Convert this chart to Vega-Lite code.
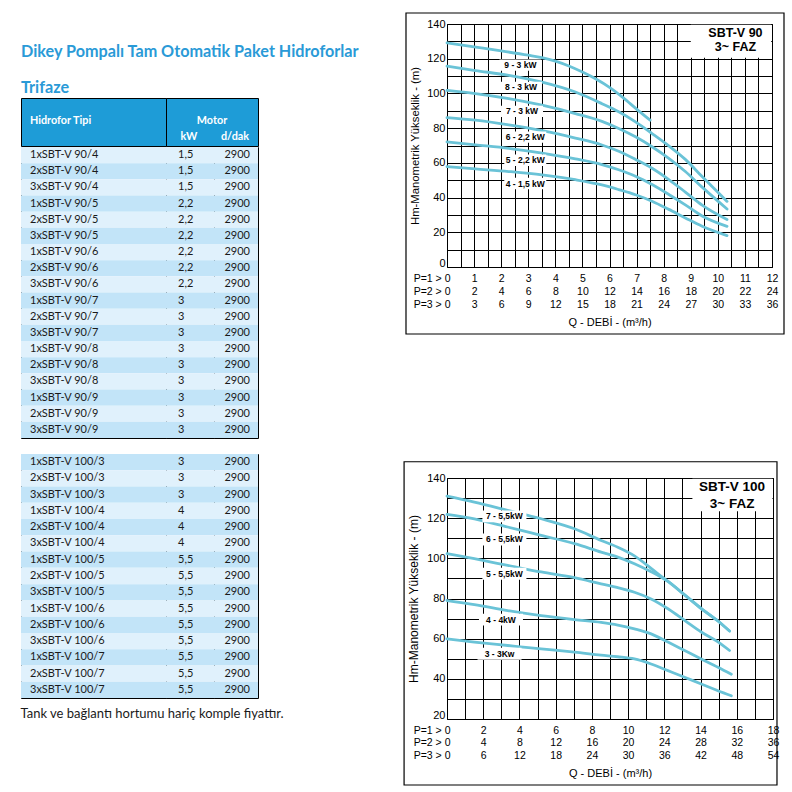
{
  "$schema": "https://vega.github.io/schema/vega-lite/v6.json",
  "padding": {"left": 20, "top": 11, "right": 4, "bottom": 2},
  "background": "white",
  "config": {
    "view": {"stroke": "black", "strokeWidth": 1},
    "font": "Liberation Sans",
    "locale": {"number": {"decimal": ",", "thousands": ".", "grouping": [3], "currency": ["", " TL"]}}
  },
  "datasets": {
    "t1": [
      {"tip": "1xSBT-V 90/4", "kw": 1.5, "dak": 2900},
      {"tip": "2xSBT-V 90/4", "kw": 1.5, "dak": 2900},
      {"tip": "3xSBT-V 90/4", "kw": 1.5, "dak": 2900},
      {"tip": "1xSBT-V 90/5", "kw": 2.2, "dak": 2900},
      {"tip": "2xSBT-V 90/5", "kw": 2.2, "dak": 2900},
      {"tip": "3xSBT-V 90/5", "kw": 2.2, "dak": 2900},
      {"tip": "1xSBT-V 90/6", "kw": 2.2, "dak": 2900},
      {"tip": "2xSBT-V 90/6", "kw": 2.2, "dak": 2900},
      {"tip": "3xSBT-V 90/6", "kw": 2.2, "dak": 2900},
      {"tip": "1xSBT-V 90/7", "kw": 3, "dak": 2900},
      {"tip": "2xSBT-V 90/7", "kw": 3, "dak": 2900},
      {"tip": "3xSBT-V 90/7", "kw": 3, "dak": 2900},
      {"tip": "1xSBT-V 90/8", "kw": 3, "dak": 2900},
      {"tip": "2xSBT-V 90/8", "kw": 3, "dak": 2900},
      {"tip": "3xSBT-V 90/8", "kw": 3, "dak": 2900},
      {"tip": "1xSBT-V 90/9", "kw": 3, "dak": 2900},
      {"tip": "2xSBT-V 90/9", "kw": 3, "dak": 2900},
      {"tip": "3xSBT-V 90/9", "kw": 3, "dak": 2900}
    ],
    "t2": [
      {"tip": "1xSBT-V 100/3", "kw": 3, "dak": 2900},
      {"tip": "2xSBT-V 100/3", "kw": 3, "dak": 2900},
      {"tip": "3xSBT-V 100/3", "kw": 3, "dak": 2900},
      {"tip": "1xSBT-V 100/4", "kw": 4, "dak": 2900},
      {"tip": "2xSBT-V 100/4", "kw": 4, "dak": 2900},
      {"tip": "3xSBT-V 100/4", "kw": 4, "dak": 2900},
      {"tip": "1xSBT-V 100/5", "kw": 5.5, "dak": 2900},
      {"tip": "2xSBT-V 100/5", "kw": 5.5, "dak": 2900},
      {"tip": "3xSBT-V 100/5", "kw": 5.5, "dak": 2900},
      {"tip": "1xSBT-V 100/6", "kw": 5.5, "dak": 2900},
      {"tip": "2xSBT-V 100/6", "kw": 5.5, "dak": 2900},
      {"tip": "3xSBT-V 100/6", "kw": 5.5, "dak": 2900},
      {"tip": "1xSBT-V 100/7", "kw": 5.5, "dak": 2900},
      {"tip": "2xSBT-V 100/7", "kw": 5.5, "dak": 2900},
      {"tip": "3xSBT-V 100/7", "kw": 5.5, "dak": 2900}
    ],
    "curves90": [
      {"curve": "9", "q": 0, "h": 129.1}, {"curve": "9", "q": 1, "h": 126.8}, {"curve": "9", "q": 2, "h": 124.5}, {"curve": "9", "q": 3, "h": 122.0}, {"curve": "9", "q": 3.5, "h": 120.6}, {"curve": "9", "q": 4, "h": 118.6}, {"curve": "9", "q": 4.5, "h": 115.8}, {"curve": "9", "q": 5, "h": 112.3}, {"curve": "9", "q": 5.5, "h": 108.3}, {"curve": "9", "q": 6, "h": 103.5}, {"curve": "9", "q": 6.5, "h": 97.6}, {"curve": "9", "q": 7, "h": 91.0}, {"curve": "9", "q": 7.5, "h": 84.6},
      {"curve": "8", "q": 0, "h": 115.7}, {"curve": "8", "q": 1.05, "h": 113.2}, {"curve": "8", "q": 2.28, "h": 110.4}, {"curve": "8", "q": 3.51, "h": 106.5}, {"curve": "8", "q": 4.74, "h": 100.8}, {"curve": "8", "q": 5.72, "h": 94.1}, {"curve": "8", "q": 6.34, "h": 89.4}, {"curve": "8", "q": 6.96, "h": 83.6}, {"curve": "8", "q": 7.57, "h": 76.9}, {"curve": "8", "q": 8.19, "h": 69.8}, {"curve": "8", "q": 8.8, "h": 62.0}, {"curve": "8", "q": 9.42, "h": 52.1}, {"curve": "8", "q": 10.34, "h": 37.8},
      {"curve": "7", "q": 0, "h": 101.8}, {"curve": "7", "q": 1.05, "h": 99.9}, {"curve": "7", "q": 2.28, "h": 97.0}, {"curve": "7", "q": 3.51, "h": 93.2}, {"curve": "7", "q": 4.74, "h": 88.4}, {"curve": "7", "q": 5.72, "h": 83.9}, {"curve": "7", "q": 6.34, "h": 79.8}, {"curve": "7", "q": 6.96, "h": 75.0}, {"curve": "7", "q": 7.57, "h": 69.3}, {"curve": "7", "q": 8.19, "h": 62.6}, {"curve": "7", "q": 8.8, "h": 55.0}, {"curve": "7", "q": 9.42, "h": 46.0}, {"curve": "7", "q": 10.34, "h": 33.4},
      {"curve": "6", "q": 0, "h": 86.1}, {"curve": "6", "q": 1.05, "h": 84.6}, {"curve": "6", "q": 2.28, "h": 81.9}, {"curve": "6", "q": 3.51, "h": 78.6}, {"curve": "6", "q": 4.74, "h": 74.3}, {"curve": "6", "q": 5.72, "h": 70.3}, {"curve": "6", "q": 6.34, "h": 66.7}, {"curve": "6", "q": 6.96, "h": 62.0}, {"curve": "6", "q": 7.57, "h": 56.9}, {"curve": "6", "q": 8.19, "h": 50.4}, {"curve": "6", "q": 8.8, "h": 43.2}, {"curve": "6", "q": 9.42, "h": 35.6}, {"curve": "6", "q": 10.34, "h": 27.3},
      {"curve": "5", "q": 0, "h": 72.1}, {"curve": "5", "q": 1.05, "h": 70.4}, {"curve": "5", "q": 2.28, "h": 68.4}, {"curve": "5", "q": 3.51, "h": 65.6}, {"curve": "5", "q": 4.74, "h": 62.3}, {"curve": "5", "q": 5.72, "h": 59.0}, {"curve": "5", "q": 6.34, "h": 56.0}, {"curve": "5", "q": 6.96, "h": 52.3}, {"curve": "5", "q": 7.57, "h": 47.5}, {"curve": "5", "q": 8.19, "h": 41.8}, {"curve": "5", "q": 8.8, "h": 35.8}, {"curve": "5", "q": 9.42, "h": 29.4}, {"curve": "5", "q": 10.34, "h": 23.4},
      {"curve": "4", "q": 0, "h": 57.8}, {"curve": "4", "q": 1.05, "h": 56.5}, {"curve": "4", "q": 2.28, "h": 55.0}, {"curve": "4", "q": 3.51, "h": 53.1}, {"curve": "4", "q": 4.74, "h": 50.3}, {"curve": "4", "q": 5.72, "h": 47.3}, {"curve": "4", "q": 6.34, "h": 44.6}, {"curve": "4", "q": 6.96, "h": 41.6}, {"curve": "4", "q": 7.57, "h": 37.9}, {"curve": "4", "q": 8.19, "h": 33.2}, {"curve": "4", "q": 8.8, "h": 28.3}, {"curve": "4", "q": 9.42, "h": 23.5}, {"curve": "4", "q": 10.34, "h": 18.1}
    ],
    "labels90": [
      {"label": "9 - 3 kW", "q": 2.71, "h": 116.3},
      {"label": "8 - 3 kW", "q": 2.73, "h": 103.5},
      {"label": "7 - 3 kW", "q": 2.77, "h": 89.7},
      {"label": "6 - 2,2 kW", "q": 2.89, "h": 74.8},
      {"label": "5 - 2,2 kW", "q": 2.89, "h": 61.5},
      {"label": "4 - 1,5 kW", "q": 2.89, "h": 48.1}
    ],
    "curves100": [
      {"curve": "7", "q": 0, "h": 131.0}, {"curve": "7", "q": 1.51, "h": 128.0}, {"curve": "7", "q": 3.35, "h": 123.9}, {"curve": "7", "q": 5.2, "h": 119.7}, {"curve": "7", "q": 7.04, "h": 114.7}, {"curve": "7", "q": 8.51, "h": 108.9}, {"curve": "7", "q": 9.43, "h": 105.5}, {"curve": "7", "q": 10.35, "h": 101.2}, {"curve": "7", "q": 11.27, "h": 95.0}, {"curve": "7", "q": 11.83, "h": 91.0}, {"curve": "7", "q": 12.2, "h": 88.5}, {"curve": "7", "q": 13.12, "h": 81.8}, {"curve": "7", "q": 14.04, "h": 75.0}, {"curve": "7", "q": 14.96, "h": 68.8}, {"curve": "7", "q": 15.6, "h": 63.8},
      {"curve": "6", "q": 0, "h": 121.9}, {"curve": "6", "q": 1.51, "h": 119.7}, {"curve": "6", "q": 3.35, "h": 115.6}, {"curve": "6", "q": 5.2, "h": 111.4}, {"curve": "6", "q": 7.04, "h": 107.3}, {"curve": "6", "q": 8.51, "h": 103.1}, {"curve": "6", "q": 9.43, "h": 100.6}, {"curve": "6", "q": 10.35, "h": 97.3}, {"curve": "6", "q": 11.27, "h": 93.3}, {"curve": "6", "q": 11.83, "h": 90.6}, {"curve": "6", "q": 12.2, "h": 88.5}, {"curve": "6", "q": 13.12, "h": 81.8}, {"curve": "6", "q": 14.04, "h": 75.0}, {"curve": "6", "q": 14.96, "h": 68.8}, {"curve": "6", "q": 15.6, "h": 63.8},
      {"curve": "5", "q": 0, "h": 102.3}, {"curve": "5", "q": 1.51, "h": 99.8}, {"curve": "5", "q": 3.35, "h": 96.5}, {"curve": "5", "q": 5.2, "h": 93.2}, {"curve": "5", "q": 7.04, "h": 90.4}, {"curve": "5", "q": 8.51, "h": 87.3}, {"curve": "5", "q": 9.43, "h": 85.4}, {"curve": "5", "q": 10.35, "h": 83.1}, {"curve": "5", "q": 11.27, "h": 79.8}, {"curve": "5", "q": 12.2, "h": 74.9}, {"curve": "5", "q": 13.12, "h": 69.1}, {"curve": "5", "q": 14.04, "h": 63.3}, {"curve": "5", "q": 14.96, "h": 58.4}, {"curve": "5", "q": 15.6, "h": 54.1},
      {"curve": "4", "q": 0, "h": 79.0}, {"curve": "4", "q": 1.51, "h": 77.0}, {"curve": "4", "q": 3.35, "h": 74.0}, {"curve": "4", "q": 5.2, "h": 71.5}, {"curve": "4", "q": 7.04, "h": 69.5}, {"curve": "4", "q": 8.51, "h": 68.1}, {"curve": "4", "q": 9.43, "h": 66.8}, {"curve": "4", "q": 10.35, "h": 64.9}, {"curve": "4", "q": 11.27, "h": 62.4}, {"curve": "4", "q": 12.2, "h": 58.3}, {"curve": "4", "q": 13.12, "h": 54.1}, {"curve": "4", "q": 14.04, "h": 49.9}, {"curve": "4", "q": 14.96, "h": 45.8}, {"curve": "4", "q": 15.7, "h": 42.3},
      {"curve": "3", "q": 0, "h": 59.9}, {"curve": "3", "q": 1.51, "h": 58.3}, {"curve": "3", "q": 3.35, "h": 56.6}, {"curve": "3", "q": 5.2, "h": 54.9}, {"curve": "3", "q": 7.04, "h": 53.3}, {"curve": "3", "q": 8.51, "h": 51.8}, {"curve": "3", "q": 9.43, "h": 51.0}, {"curve": "3", "q": 10.35, "h": 49.9}, {"curve": "3", "q": 11.27, "h": 47.4}, {"curve": "3", "q": 12.2, "h": 44.1}, {"curve": "3", "q": 13.12, "h": 40.8}, {"curve": "3", "q": 14.04, "h": 37.4}, {"curve": "3", "q": 14.96, "h": 34.1}, {"curve": "3", "q": 15.7, "h": 31.6}
    ],
    "labels100": [
      {"label": "7 - 5,5kW", "q": 3.17, "h": 120.9},
      {"label": "6 - 5,5kW", "q": 3.17, "h": 109.4},
      {"label": "5 - 5,5kW", "q": 3.17, "h": 92.3},
      {"label": "4 - 4kW", "q": 2.98, "h": 69.5},
      {"label": "3 - 3Kw", "q": 2.9, "h": 52.5}
    ]
  },
  "hconcat": [
    {
      "spacing": 0,
      "vconcat": [
        {
          "width": 237, "height": 1,
          "view": {"stroke": null},
          "data": {"values": []},
          "mark": {"type": "text"},
          "encoding": {"text": {"value": ""}},
          "title": {
            "text": ["Dikey Pompalı Tam Otomatik Paket Hidroforlar", "Trifaze"],
            "orient": "bottom", "anchor": "start", "offset": 19,
            "font": "Lato", "fontSize": 16.2, "fontWeight": "bold", "color": "#2a9ad7", "lineHeight": 36
          }
        },
        {
          "spacing": 14,
          "vconcat": [
            {
              "spacing": -1,
              "vconcat": [
                {
                  "spacing": 0, "bounds": "flush",
                  "hconcat": [
                    {
                      "width": 145, "height": 48,
                      "view": {"fill": "#1e9cd7", "stroke": "black"},
                      "data": {"values": [{"head": "Hidrofor Tipi"}]},
                      "mark": {"type": "text", "align": "left", "dx": -63.5, "dy": -1, "font": "Lato", "fontWeight": "bold", "fontSize": 10.8, "color": "white"},
                      "encoding": {"text": {"field": "head"}}
                    },
                    {
                      "width": 92, "height": 48,
                      "view": {"fill": "#1e9cd7", "stroke": "black"},
                      "layer": [
                        {
                          "data": {"values": [{"head": "Motor"}]},
                          "mark": {"type": "text", "dy": -1, "font": "Lato", "fontWeight": "bold", "fontSize": 10.8, "color": "white"},
                          "encoding": {"text": {"field": "head"}}
                        },
                        {
                          "data": {"values": [{"unit": "kW"}, {"unit": "d/dak"}]},
                          "mark": {"type": "text", "dy": 15, "font": "Lato", "fontWeight": "bold", "fontSize": 10.8, "color": "white"},
                          "encoding": {
                            "x": {"field": "unit", "type": "nominal", "sort": null, "axis": null, "scale": {"type": "band", "paddingInner": 0, "paddingOuter": 0}},
                            "text": {"field": "unit"}
                          }
                        }
                      ]
                    }
                  ]
                },
                {
                  "spacing": 0, "bounds": "flush",
                  "hconcat": [
                    {
                      "width": 145, "height": 291,
                      "data": {"name": "t1"},
                      "transform": [{"window": [{"op": "row_number", "as": "rn"}]}],
                      "encoding": {"y": {"field": "tip", "type": "nominal", "sort": null, "axis": null, "scale": {"type": "band", "paddingInner": 0, "paddingOuter": 0}}},
                      "layer": [
                        {"mark": {"type": "rect"}, "encoding": {"color": {"condition": {"test": "datum.rn % 2 == 0", "value": "#c2e4f8"}, "value": "#e0f1fc"}}},
                        {"mark": {"type": "text", "align": "left", "dx": -63.5, "font": "Lato", "fontSize": 11, "color": "#1a1a1a"}, "encoding": {"text": {"field": "tip"}}}
                      ]
                    },
                    {
                      "width": 48, "height": 291,
                      "data": {"name": "t1"},
                      "transform": [{"window": [{"op": "row_number", "as": "rn"}]}],
                      "encoding": {"y": {"field": "tip", "type": "nominal", "sort": null, "axis": null, "scale": {"type": "band", "paddingInner": 0, "paddingOuter": 0}}},
                      "layer": [
                        {"mark": {"type": "rect"}, "encoding": {"color": {"condition": {"test": "datum.rn % 2 == 0", "value": "#c2e4f8"}, "value": "#e0f1fc"}}},
                        {"mark": {"type": "text", "align": "left", "dx": -12, "font": "Lato", "fontSize": 11, "color": "#1a1a1a"}, "encoding": {"text": {"field": "kw", "type": "quantitative", "format": "~r"}}}
                      ]
                    },
                    {
                      "width": 44, "height": 291,
                      "data": {"name": "t1"},
                      "transform": [{"window": [{"op": "row_number", "as": "rn"}]}],
                      "encoding": {"y": {"field": "tip", "type": "nominal", "sort": null, "axis": null, "scale": {"type": "band", "paddingInner": 0, "paddingOuter": 0}}},
                      "layer": [
                        {"mark": {"type": "rect"}, "encoding": {"color": {"condition": {"test": "datum.rn % 2 == 0", "value": "#c2e4f8"}, "value": "#e0f1fc"}}},
                        {"mark": {"type": "text", "align": "right", "dx": 14, "font": "Lato", "fontSize": 11, "color": "#1a1a1a"}, "encoding": {"text": {"field": "dak", "type": "quantitative", "format": "d"}}}
                      ]
                    }
                  ]
                }
              ]
            },
            {
              "spacing": 0, "bounds": "flush",
              "title": {"text": "Tank ve bağlantı hortumu hariç komple fiyattır.", "orient": "bottom", "anchor": "start", "font": "Lato", "fontSize": 13, "fontWeight": "normal", "color": "#1a1a1a", "offset": 9},
              "hconcat": [
                {
                  "width": 145, "height": 244,
                  "data": {"name": "t2"},
                  "transform": [{"window": [{"op": "row_number", "as": "rn"}]}],
                  "encoding": {"y": {"field": "tip", "type": "nominal", "sort": null, "axis": null, "scale": {"type": "band", "paddingInner": 0, "paddingOuter": 0}}},
                  "layer": [
                    {"mark": {"type": "rect"}, "encoding": {"color": {"condition": {"test": "datum.rn % 2 == 1", "value": "#c2e4f8"}, "value": "#e0f1fc"}}},
                    {"mark": {"type": "text", "align": "left", "dx": -63.5, "font": "Lato", "fontSize": 11, "color": "#1a1a1a"}, "encoding": {"text": {"field": "tip"}}}
                  ]
                },
                {
                  "width": 48, "height": 244,
                  "data": {"name": "t2"},
                  "transform": [{"window": [{"op": "row_number", "as": "rn"}]}],
                  "encoding": {"y": {"field": "tip", "type": "nominal", "sort": null, "axis": null, "scale": {"type": "band", "paddingInner": 0, "paddingOuter": 0}}},
                  "layer": [
                    {"mark": {"type": "rect"}, "encoding": {"color": {"condition": {"test": "datum.rn % 2 == 1", "value": "#c2e4f8"}, "value": "#e0f1fc"}}},
                    {"mark": {"type": "text", "align": "left", "dx": -12, "font": "Lato", "fontSize": 11, "color": "#1a1a1a"}, "encoding": {"text": {"field": "kw", "type": "quantitative", "format": "~r"}}}
                  ]
                },
                {
                  "width": 44, "height": 244,
                  "data": {"name": "t2"},
                  "transform": [{"window": [{"op": "row_number", "as": "rn"}]}],
                  "encoding": {"y": {"field": "tip", "type": "nominal", "sort": null, "axis": null, "scale": {"type": "band", "paddingInner": 0, "paddingOuter": 0}}},
                  "layer": [
                    {"mark": {"type": "rect"}, "encoding": {"color": {"condition": {"test": "datum.rn % 2 == 1", "value": "#c2e4f8"}, "value": "#e0f1fc"}}},
                    {"mark": {"type": "text", "align": "right", "dx": 14, "font": "Lato", "fontSize": 11, "color": "#1a1a1a"}, "encoding": {"text": {"field": "dak", "type": "quantitative", "format": "d"}}}
                  ]
                }
              ]
            }
          ]
        }
      ]
    },
    {
      "spacing": 124,
      "vconcat": [
        {
          "width": 325, "height": 243,
          "layer": [
            {
              "data": {"values": [{}]},
              "mark": {"type": "rect", "fill": "transparent", "stroke": "black", "strokeWidth": 1.2, "clip": false},
              "encoding": {
                "x": {"datum": -1.514, "type": "quantitative",
                  "scale": {"domain": [0, 12], "nice": false, "zero": false},
                  "axis": {
                    "values": [0, 0.5, 1, 1.5, 2, 2.5, 3, 3.5, 4, 4.5, 5, 5.5, 6, 6.5, 7, 7.5, 8, 8.5, 9, 9.5, 10, 10.5, 11, 11.5, 12],
                    "tickCount": 100,
                    "grid": true, "gridColor": "black", "gridOpacity": 1, "gridWidth": 1,
                    "ticks": false, "tickSize": 0, "domain": false,
                    "labelExpr": "datum.value == 0 ? ['P=1 > 0', 'P=2 > 0', 'P=3 > 0'] : (datum.value % 1 == 0 ? ['' + datum.value, '' + (datum.value * 2), '' + (datum.value * 3)] : '')",
                    "labelAlign": {"condition": {"test": "datum.value == 0", "value": "right"}, "value": "center"},
                    "labelOffset": {"condition": {"test": "datum.value == 0", "value": 3}, "value": 0},
                    "labelFont": "Liberation Sans", "labelFontSize": 10.5, "labelLineHeight": 13, "labelPadding": 6, "labelColor": "black",
                    "labelOverlap": false, "labelFlush": false, "labelBound": false,
                    "title": "Q - DEBİ - (m³/h)", "titleFont": "Liberation Sans", "titleFontSize": 11, "titleFontWeight": "normal", "titleColor": "black", "titlePadding": 7
                  }
                },
                "x2": {"datum": 12.443},
                "y": {"datum": -38.6, "type": "quantitative",
                  "scale": {"domain": [0, 140], "nice": false, "zero": false},
                  "axis": {
                    "values": [0, 10, 20, 30, 40, 50, 60, 70, 80, 90, 100, 110, 120, 130, 140],
                    "tickCount": 100,
                    "grid": true, "gridColor": "black", "gridOpacity": 1, "gridWidth": 1,
                    "ticks": false, "tickSize": 0, "domain": false,
                    "labelExpr": "datum.value % 20 == 0 ? '' + datum.value : ''",
                    "labelOffset": {"condition": {"test": "datum.value == 0", "value": -4}, "value": 0},
                    "labelFont": "Liberation Sans", "labelFontSize": 11, "labelPadding": 2, "labelColor": "black",
                    "labelOverlap": false, "labelFlush": false, "labelBound": false,
                    "title": "Hm-Manometrik Yükseklik - (m)", "titleFont": "Liberation Sans", "titleFontSize": 11.3, "titleFontWeight": "normal", "titleColor": "black", "titlePadding": 6
                  }
                },
                "y2": {"datum": 146.34}
              }
            },
            {
              "data": {"name": "curves90"},
              "mark": {"type": "line", "interpolate": "monotone", "strokeWidth": 2.8, "color": "#6ac3d7", "strokeCap": "round"},
              "encoding": {
                "x": {"field": "q", "type": "quantitative"},
                "y": {"field": "h", "type": "quantitative"},
                "detail": {"field": "curve"}
              }
            },
            {
              "data": {"values": [{}]},
              "mark": {"type": "rect", "fill": "white"},
              "encoding": {"x": {"datum": 9.0}, "x2": {"datum": 11.97}, "y": {"datum": 120.6}, "y2": {"datum": 139.6}}
            },
            {
              "data": {"values": [{}]},
              "mark": {"type": "text", "font": "Liberation Sans", "fontWeight": "bold", "fontSize": 12.5, "lineHeight": 14, "baseline": "middle", "color": "black"},
              "encoding": {"x": {"datum": 10.65}, "y": {"datum": 134.6}, "text": {"value": ["SBT-V 90", "3~ FAZ"]}}
            },
            {
              "data": {"name": "labels90"},
              "mark": {"type": "point", "shape": "M-1,-0.27L1,-0.27L1,0.27L-1,0.27Z", "filled": true, "color": "white", "opacity": 1, "size": 1764, "strokeWidth": 0},
              "encoding": {"x": {"field": "q", "type": "quantitative"}, "y": {"field": "h", "type": "quantitative"}}
            },
            {
              "data": {"name": "labels90"},
              "mark": {"type": "text", "font": "Liberation Sans", "fontWeight": "bold", "fontSize": 8.5, "color": "black"},
              "encoding": {"x": {"field": "q", "type": "quantitative"}, "y": {"field": "h", "type": "quantitative"}, "text": {"field": "label"}}
            }
          ]
        },
        {
          "width": 326, "height": 241,
          "layer": [
            {
              "data": {"values": [{}]},
              "mark": {"type": "rect", "fill": "transparent", "stroke": "black", "strokeWidth": 1.2, "clip": false},
              "encoding": {
                "x": {"datum": -2.37, "type": "quantitative",
                  "scale": {"domain": [0, 18], "nice": false, "zero": false},
                  "axis": {
                    "values": [0, 1, 2, 3, 4, 5, 6, 7, 8, 9, 10, 11, 12, 13, 14, 15, 16, 17, 18],
                    "tickCount": 100,
                    "grid": true, "gridColor": "black", "gridOpacity": 1, "gridWidth": 1,
                    "ticks": false, "tickSize": 0, "domain": false,
                    "labelExpr": "datum.value == 0 ? ['P=1 > 0', 'P=2 > 0', 'P=3 > 0'] : (datum.value % 2 == 0 ? ['' + datum.value, '' + (datum.value * 2), '' + (datum.value * 3)] : '')",
                    "labelAlign": {"condition": {"test": "datum.value == 0", "value": "right"}, "value": "center"},
                    "labelOffset": {"condition": {"test": "datum.value == 0", "value": 3}, "value": 0},
                    "labelFont": "Liberation Sans", "labelFontSize": 10.5, "labelLineHeight": 12.5, "labelPadding": 6, "labelColor": "black",
                    "labelOverlap": false, "labelFlush": false, "labelBound": false,
                    "title": "Q - DEBİ - (m³/h)", "titleFont": "Liberation Sans", "titleFontSize": 11, "titleFontWeight": "normal", "titleColor": "black", "titlePadding": 7
                  }
                },
                "x2": {"datum": 18.22},
                "y": {"datum": -12.87, "type": "quantitative",
                  "scale": {"domain": [20, 140], "nice": false, "zero": false},
                  "axis": {
                    "values": [20, 30, 40, 50, 60, 70, 80, 90, 100, 110, 120, 130, 140],
                    "tickCount": 100,
                    "grid": true, "gridColor": "black", "gridOpacity": 1, "gridWidth": 1,
                    "ticks": false, "tickSize": 0, "domain": false,
                    "labelExpr": "datum.value % 20 == 0 ? '' + datum.value : ''",
                    "labelOffset": {"condition": {"test": "datum.value == 20", "value": -4}, "value": 0},
                    "labelFont": "Liberation Sans", "labelFontSize": 11, "labelPadding": 2, "labelColor": "black",
                    "labelOverlap": false, "labelFlush": false, "labelBound": false,
                    "title": "Hm-Manometrik Yükseklik - (m)", "titleFont": "Liberation Sans", "titleFontSize": 12, "titleFontWeight": "normal", "titleColor": "black", "titlePadding": 6
                  }
                },
                "y2": {"datum": 148.1}
              }
            },
            {
              "data": {"name": "curves100"},
              "mark": {"type": "line", "interpolate": "monotone", "strokeWidth": 2.8, "color": "#6ac3d7", "strokeCap": "round"},
              "encoding": {
                "x": {"field": "q", "type": "quantitative"},
                "y": {"field": "h", "type": "quantitative"},
                "detail": {"field": "curve"}
              }
            },
            {
              "data": {"values": [{}]},
              "mark": {"type": "rect", "fill": "white"},
              "encoding": {"x": {"datum": 13.55}, "x2": {"datum": 17.97}, "y": {"datum": 123.5}, "y2": {"datum": 139.65}}
            },
            {
              "data": {"values": [{}]},
              "mark": {"type": "text", "font": "Liberation Sans", "fontWeight": "bold", "fontSize": 13.5, "lineHeight": 16.7, "baseline": "middle", "color": "black"},
              "encoding": {"x": {"datum": 15.74}, "y": {"datum": 135.5}, "text": {"value": ["SBT-V 100", "3~ FAZ"]}}
            },
            {
              "data": {"name": "labels100"},
              "mark": {"type": "point", "shape": "M-1,-0.27L1,-0.27L1,0.27L-1,0.27Z", "filled": true, "color": "white", "opacity": 1, "size": 1936, "strokeWidth": 0},
              "encoding": {"x": {"field": "q", "type": "quantitative"}, "y": {"field": "h", "type": "quantitative"}}
            },
            {
              "data": {"name": "labels100"},
              "mark": {"type": "text", "font": "Liberation Sans", "fontWeight": "bold", "fontSize": 8.5, "color": "black"},
              "encoding": {"x": {"field": "q", "type": "quantitative"}, "y": {"field": "h", "type": "quantitative"}, "text": {"field": "label"}}
            }
          ]
        }
      ]
    }
  ],
  "spacing": 42
}
